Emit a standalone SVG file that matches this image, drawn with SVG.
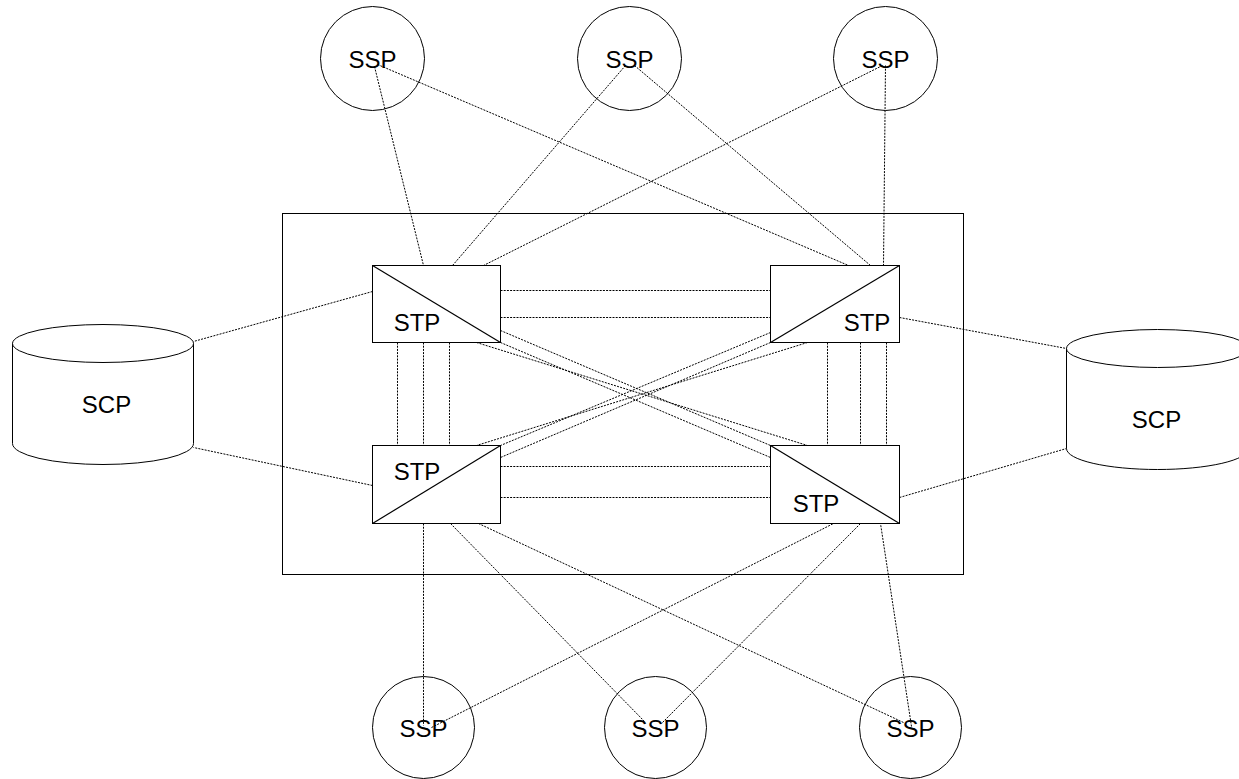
<svg xmlns="http://www.w3.org/2000/svg" width="1239" height="779" viewBox="0 0 1239 779">
<style>
.n{fill:#fff;stroke:#000;stroke-width:1}
.b{fill:none;stroke:#000;stroke-width:1.2}
.c{fill:none;stroke:#000;stroke-width:1;stroke-dasharray:2 1.2}
text{font-family:"Liberation Sans",Arial,sans-serif;font-size:24px;fill:#000}
.m{text-anchor:middle}
</style>
<rect width="1239" height="779" fill="#fff"/>
<g transform="translate(0.5 0.5)">
<rect id="frame" x="282" y="213" width="681" height="361" fill="none" stroke="#000" stroke-width="1"/>
<g id="ssp-top-1"><circle class="n" cx="372" cy="58" r="52"/><text class="m" x="372" y="67">SSP</text></g>
<g id="ssp-top-2"><circle class="n" cx="629" cy="58" r="52"/><text class="m" x="629" y="67">SSP</text></g>
<g id="ssp-top-3"><circle class="n" cx="885" cy="58" r="52"/><text class="m" x="885" y="67">SSP</text></g>
<g id="ssp-bot-1"><circle class="n" cx="423" cy="727" r="51"/><text class="m" x="423" y="736">SSP</text></g>
<g id="ssp-bot-2"><circle class="n" cx="655" cy="727" r="51"/><text class="m" x="655" y="736">SSP</text></g>
<g id="ssp-bot-3"><circle class="n" cx="910" cy="727" r="51"/><text class="m" x="910" y="736">SSP</text></g>
<g id="scp-left">
<path class="n" d="M12,343 L12,443 A90.5,21 0 0 0 193,443 L193,343 Z"/>
<ellipse class="n" cx="102.5" cy="343" rx="90.5" ry="19"/>
<text class="m" x="106" y="412">SCP</text>
</g>
<g id="scp-right">
<path class="n" d="M1066,348 L1066,448 A91,21 0 0 0 1248,448 L1248,348 Z"/>
<ellipse class="n" cx="1157" cy="348" rx="91" ry="19"/>
<text class="m" x="1156" y="427">SCP</text>
</g>
<g id="connectors">
<line class="c" x1="374" y1="66" x2="423" y2="265"/>
<line class="c" x1="377" y1="64" x2="848" y2="265"/>
<line class="c" x1="625" y1="65" x2="452" y2="265"/>
<line class="c" x1="634" y1="65" x2="870" y2="265"/>
<line class="c" x1="882" y1="65" x2="483" y2="265"/>
<line class="c" x1="885" y1="65" x2="883" y2="265"/>
<line class="c" x1="372" y1="291" x2="193" y2="341"/>
<line class="c" x1="372" y1="485" x2="193" y2="447"/>
<line class="c" x1="899" y1="317" x2="1066" y2="348"/>
<line class="c" x1="899" y1="497" x2="1066" y2="448"/>
<line class="c" x1="500" y1="290" x2="770" y2="290"/>
<line class="c" x1="500" y1="317" x2="770" y2="317"/>
<line class="c" x1="500" y1="466" x2="770" y2="466"/>
<line class="c" x1="500" y1="497" x2="770" y2="497"/>
<line class="c" x1="397" y1="342" x2="397" y2="445"/>
<line class="c" x1="423" y1="342" x2="423" y2="445"/>
<line class="c" x1="449" y1="342" x2="449" y2="445"/>
<line class="c" x1="827" y1="342" x2="827" y2="445"/>
<line class="c" x1="860" y1="342" x2="860" y2="445"/>
<line class="c" x1="886" y1="342" x2="886" y2="445"/>
<line class="c" x1="500" y1="330" x2="770" y2="445"/>
<line class="c" x1="500" y1="342" x2="770" y2="457"/>
<line class="c" x1="476" y1="342" x2="807" y2="445"/>
<line class="c" x1="770" y1="332" x2="500" y2="445"/>
<line class="c" x1="770" y1="342" x2="500" y2="457"/>
<line class="c" x1="807" y1="342" x2="476" y2="445"/>
<line class="c" x1="423" y1="523" x2="423" y2="725"/>
<line class="c" x1="431" y1="727" x2="833" y2="523"/>
<line class="c" x1="450" y1="523" x2="645" y2="722"/>
<line class="c" x1="662" y1="722" x2="860" y2="523"/>
<line class="c" x1="478" y1="523" x2="903" y2="722"/>
<line class="c" x1="911" y1="726" x2="880" y2="523"/>
</g>
<g id="stp-tl"><rect class="n" x="372" y="265" width="128" height="77"/><line class="b" x1="372" y1="265" x2="500" y2="342"/><text class="m" x="416.5" y="330">STP</text></g>
<g id="stp-tr"><rect class="n" x="770" y="265" width="129" height="77"/><line class="b" x1="770" y1="342" x2="899" y2="265"/><text class="m" x="866.5" y="330">STP</text></g>
<g id="stp-bl"><rect class="n" x="372" y="445" width="128" height="78"/><line class="b" x1="372" y1="523" x2="500" y2="445"/><text class="m" x="416.5" y="479">STP</text></g>
<g id="stp-br"><rect class="n" x="770" y="445" width="129" height="78"/><line class="b" x1="770" y1="445" x2="899" y2="523"/><text class="m" x="815.5" y="511">STP</text></g>
</g>
</svg>
